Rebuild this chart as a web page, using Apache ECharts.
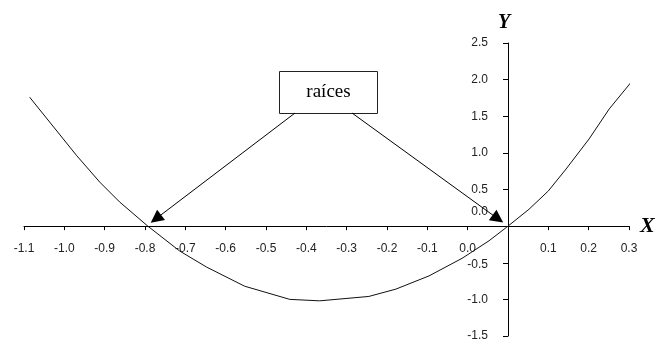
<!DOCTYPE html>
<html>
<head>
<meta charset="utf-8">
<script src="https://cdn.jsdelivr.net/npm/echarts@6/dist/echarts.min.js"></script>
<style>
  html, body { margin: 0; padding: 0; background: #fff; }
  #chart { width: 659px; height: 341px; }
</style>
</head>
<body>
<div id="chart"></div>
<script>
// Curve samples (x, f(x)) of the parabola
const xValues = [-1.186, -1.069, -1.012, -0.963, -0.893, -0.814, -0.747, -0.653, -0.541, -0.467,
                 -0.345, -0.278, -0.196, -0.114, -0.047, 0, 0.052, 0.10, 0.144, 0.201, 0.251, 0.318];
const yValues = [1.76, 0.96, 0.60, 0.33, 0, -0.34, -0.56, -0.82, -1.00, -1.02,
                 -0.96, -0.86, -0.68, -0.44, -0.20, 0, 0.23, 0.48, 0.78, 1.19, 1.60, 2.05];

// Printed labels under the horizontal axis, one per tick from left to right
const xTickLabels = ['-1.1', '-1.0', '-0.9', '-0.8', '-0.7', '-0.6', '-0.5', '-0.4',
                     '-0.3', '-0.2', '-0.1', '0.0', '', '0.1', '0.2', '0.3'];

// Roots pointed at by the annotation
const roots = [-0.893, 0];
const annotationText = 'raíces';

const X_MIN = -1.2, X_MAX = 0.3, X_STEP = 0.1;
const Y_MIN = -1.5, Y_MAX = 2.5, Y_STEP = 0.5;

// Plot area
const W = 659, H = 341;
const GRID = { left: 24, right: 30, top: 43, bottom: 5 };
const plotW = W - GRID.left - GRID.right;
const plotH = H - GRID.top - GRID.bottom;

// Axes cross at the origin: shift each axis from its grid edge to the zero line
const yAxisShift = -((0 - X_MIN) / (X_MAX - X_MIN)) * plotW;
const xAxisShift = -((0 - Y_MIN) / (Y_MAX - Y_MIN)) * plotH;

const chart = echarts.init(document.getElementById('chart'), null, { renderer: 'canvas' });

const tickFont = {
  color: '#222',
  fontFamily: '"Liberation Sans", Arial, sans-serif',
  fontSize: 12,
  lineHeight: 12
};
const nameFont = {
  color: '#000',
  fontFamily: '"Liberation Serif", "Times New Roman", serif',
  fontWeight: 'bold',
  fontStyle: 'italic'
};

chart.setOption({
  animation: false,
  backgroundColor: '#fff',
  grid: Object.assign({ containLabel: false, outerBoundsMode: 'none' }, GRID),
  xAxis: {
    type: 'value',
    position: 'bottom',
    offset: xAxisShift,
    min: X_MIN,
    max: X_MAX,
    interval: X_STEP,
    name: 'X',
    nameLocation: 'end',
    nameGap: 11,
    nameTextStyle: Object.assign({}, nameFont, { fontSize: 22, verticalAlign: 'middle', padding: [4, 0, 0, 0] }),
    axisLine: { onZero: false, lineStyle: { color: '#000', width: 1 } },
    axisTick: { show: true, inside: false, length: 4, lineStyle: { color: '#000', width: 1 } },
    axisLabel: Object.assign({}, tickFont, {
      margin: 17,
      showMinLabel: true,
      showMaxLabel: true,
      hideOverlap: false,
      formatter: function (v) {
        const i = Math.round((v - X_MIN) / X_STEP);
        return xTickLabels[i] !== undefined ? xTickLabels[i] : '';
      }
    }),
    splitLine: { show: false }
  },
  yAxis: {
    type: 'value',
    position: 'left',
    offset: yAxisShift,
    min: Y_MIN,
    max: Y_MAX,
    interval: Y_STEP,
    name: 'Y',
    nameLocation: 'end',
    nameGap: 10,
    nameTextStyle: Object.assign({}, nameFont, { fontSize: 20, align: 'center', padding: [0, 8, 0, 0] }),
    axisLine: { onZero: false, lineStyle: { color: '#000', width: 1 } },
    axisTick: { show: true, inside: false, length: 5, lineStyle: { color: '#000', width: 1 } },
    axisLabel: Object.assign({}, tickFont, {
      margin: 20,
      hideOverlap: false,
      showMinLabel: true,
      showMaxLabel: true,
      interval: 0,
      formatter: function (v) {
        if (Math.abs(v) < 1e-9) return '{raised|0.0}';
        if (Math.abs(v + 0.5) < 1e-9) return '{lowered|-0.5}';
        return v.toFixed(1);
      },
      rich: {
        raised: Object.assign({}, tickFont, { padding: [0, 0, 28, 0] }),
        lowered: Object.assign({}, tickFont, { padding: [4, 0, 0, 0] })
      }
    }),
    splitLine: { show: false }
  },
  series: [{
    type: 'line',
    data: xValues.map(function (x, i) { return [x, yValues[i]]; }),
    showSymbol: false,
    clip: false,
    lineStyle: { color: '#111', width: 1 },
    silent: true,
    markLine: {
      silent: true,
      symbol: ['none', 'triangle'],
      symbolSize: 13,
      label: { show: false },
      lineStyle: { color: '#000', width: 1, type: 'solid' },
      itemStyle: { color: '#000' },
      emphasis: { disabled: true },
      data: [
        [{ x: 295, y: 113 }, { coord: [roots[0] + 0.02, 0.1] }],
        [{ x: 352, y: 113 }, { coord: [roots[1] - 0.025, 0.1] }]
      ]
    }
  }],
  graphic: [{
    type: 'group',
    left: 279,
    top: 71,
    children: [
      {
        type: 'rect',
        shape: { x: 0, y: 0, width: 98, height: 42 },
        style: { fill: '#fff', stroke: '#222', lineWidth: 1 }
      },
      {
        type: 'text',
        x: 49,
        y: 21,
        style: {
          text: annotationText,
          fill: '#000',
          font: '19px "Liberation Serif", "Times New Roman", serif',
          align: 'center',
          verticalAlign: 'middle'
        }
      }
    ]
  }]
});
</script>
</body>
</html>
